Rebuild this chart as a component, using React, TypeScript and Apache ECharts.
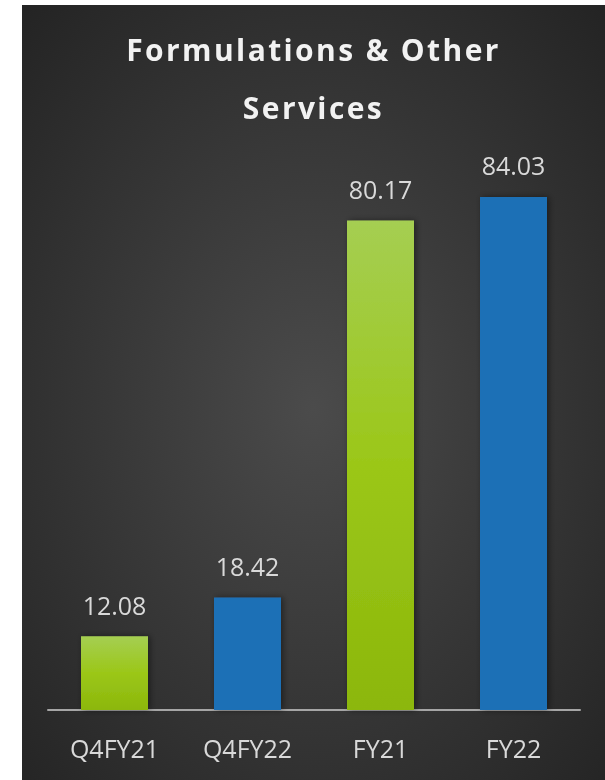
import React, { useEffect, useRef } from "react";
import * as echarts from "echarts";

const categories = ["Q4FY21", "Q4FY22", "FY21", "FY22"];
const values = [12.08, 18.42, 80.17, 84.03];
const titleText = "Formulations & Other\nServices";

const green = new echarts.graphic.LinearGradient(0, 0, 0, 1, [
  { offset: 0, color: "#a5ce52" },
  { offset: 0.5, color: "#9bc718" },
  { offset: 1, color: "#8cb70c" },
]);
const blue = "#1f6fb6";
const barColors = [green, blue, green, blue];

export default function App() {
  const ref = useRef<HTMLDivElement>(null);
  useEffect(() => {
    if (!ref.current) return;
    const el = ref.current;
    const chart = echarts.init(el, null, { renderer: "svg" });
    const spaceTitle = () => {
      el.querySelectorAll("text").forEach((t) => {
        const s = t.textContent || "";
        if (s.indexOf("Formulations") >= 0 || s.indexOf("Services") >= 0) {
          (t as SVGTextElement).style.letterSpacing = "2.4px";
        }
      });
    };
    chart.on("finished", spaceTitle);
    chart.setOption({
      animation: false,
      backgroundColor: new echarts.graphic.RadialGradient(0.5, 0.52, 0.75, [
        { offset: 0, color: "#4b4b4b" },
        { offset: 1, color: "#222222" },
      ]),
      title: {
        text: titleText,
        left: "center",
        top: 10,
        textStyle: {
          color: "#f2f2f2",
          fontFamily: "Open Sans",
          fontWeight: "bold",
          fontSize: 30,
          lineHeight: 58,
        },
      },
      grid: { left: 26, right: 25, top: 94.5, bottom: 70 },
      xAxis: {
        type: "category",
        data: categories,
        axisLine: { show: true, lineStyle: { color: "#a6a6a6", width: 2 } },
        axisTick: { show: false },
        axisLabel: {
          color: "#d9d9d9",
          fontFamily: "Open Sans",
          fontSize: 25,
          margin: 25,
        },
      },
      yAxis: {
        type: "value",
        min: 0,
        max: 100,
        show: false,
        splitLine: { show: false },
      },
      series: [
        {
          type: "bar",
          barWidth: 67,
          data: values.map((v, i) => ({ value: v, itemStyle: { color: barColors[i] } })),
          itemStyle: {
            shadowBlur: 6,
            shadowColor: "rgba(0,0,0,0.45)",
            shadowOffsetX: 2,
            shadowOffsetY: 0,
          },
          label: {
            show: true,
            position: "top",
            distance: 19,
            color: "#d9d9d9",
            fontFamily: "Open Sans",
            fontSize: 25,
            formatter: (p: any) => p.value.toFixed(2),
          },
        },
      ],
    });
    spaceTitle();
    return () => chart.dispose();
  }, []);
  return (
    <div
      ref={ref}
      style={{ position: "fixed", left: 22, top: 5, width: 583, height: 775 }}
    />
  );
}
